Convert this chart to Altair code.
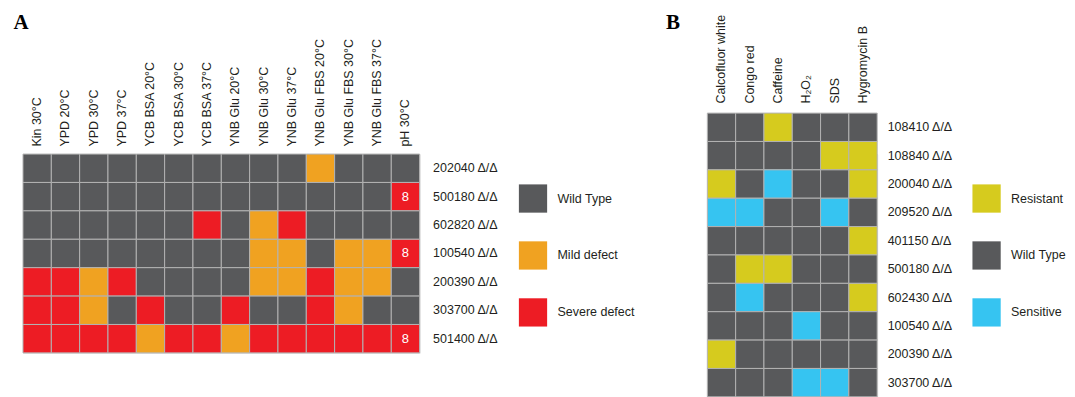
import altair as alt
import pandas as pd

# ---------------- Panel A data ----------------
a_conditions = ["Kin 30°C", "YPD 20°C", "YPD 30°C", "YPD 37°C", "YCB BSA 20°C",
                "YCB BSA 30°C", "YCB BSA 37°C", "YNB Glu 20°C", "YNB Glu 30°C",
                "YNB Glu 37°C", "YNB Glu FBS 20°C", "YNB Glu FBS 30°C",
                "YNB Glu FBS 37°C", "pH 30°C"]
a_strains = ["202040 Δ/Δ", "500180 Δ/Δ", "602820 Δ/Δ", "100540 Δ/Δ",
             "200390 Δ/Δ", "303700 Δ/Δ", "501400 Δ/Δ"]
# W = Wild Type, M = Mild defect, S = Severe defect
a_codes = ["WWWWWWWWWWMWWW",
           "WWWWWWWWWWWWWS",
           "WWWWWWSWMSWWWW",
           "WWWWWWWWMMWMMS",
           "SSMSWWWWMMSMMW",
           "SSMWSWWSWWSMWW",
           "SSSSMSSMSSSSSS"]
a_notes = [("500180 Δ/Δ", "pH 30°C", "8"),
           ("100540 Δ/Δ", "pH 30°C", "8"),
           ("501400 Δ/Δ", "pH 30°C", "8")]
a_names = {"W": "Wild Type", "M": "Mild defect", "S": "Severe defect"}
a_legend = ["Wild Type", "Mild defect", "Severe defect"]
a_colors = ["#58595b", "#f0a221", "#ed1c24"]

# ---------------- Panel B data ----------------
b_conditions = ["Calcofluor white", "Congo red", "Caffeine", "H₂O₂", "SDS", "Hygromycin B"]
b_strains = ["108410 Δ/Δ", "108840 Δ/Δ", "200040 Δ/Δ", "209520 Δ/Δ", "401150 Δ/Δ",
             "500180 Δ/Δ", "602430 Δ/Δ", "100540 Δ/Δ", "200390 Δ/Δ", "303700 Δ/Δ"]
# R = Resistant, W = Wild Type, S = Sensitive
b_codes = ["WWRWWW",
           "WWWWRR",
           "RWSWWR",
           "SSWWSW",
           "WWWWWR",
           "WRRWWW",
           "WSWWWR",
           "WWWSWW",
           "RWWWWW",
           "WWWSSW"]
b_names = {"R": "Resistant", "W": "Wild Type", "S": "Sensitive"}
b_legend = ["Resistant", "Wild Type", "Sensitive"]
b_colors = ["#d6cb1e", "#58595b", "#36c4f1"]

FONT = "Liberation Sans"
TXT = "#231f20"
FS = 12.5

rows = []
notes = {(s, c): t for s, c, t in a_notes}
for s, code in zip(a_strains, a_codes):
    for c, k in zip(a_conditions, code):
        rows.append({"strain": s, "condition": c, "status": a_names[k],
                     "note": notes.get((s, c), "")})
dfA = pd.DataFrame(rows)

rows = []
for s, code in zip(b_strains, b_codes):
    for c, k in zip(b_conditions, code):
        rows.append({"strain": s, "condition": c, "status": b_names[k]})
dfB = pd.DataFrame(rows)


def panel(df, conds, strains, legend_dom, colors, width, height, lift, letter,
          title_x, title_y, x_pad, y_pad, leg_x, leg_y, with_text):
    # lift: how far (px) the grid rises above the shared row origin
    x_axis = alt.Axis(orient="top", labelAngle=270, ticks=False, domain=False,
                      offset=lift,
                      labelPadding=x_pad, labelFontSize=FS, labelColor=TXT,
                      labelFont=FONT, title=letter, titleX=title_x, titleY=title_y,
                      titleAngle=0, titleAlign="left", titleBaseline="alphabetic",
                      titleFont="Liberation Serif", titleFontSize=21,
                      titleFontWeight="bold", titleColor="#000000")
    y_axis = alt.Axis(orient="right", ticks=False, domain=False, labelPadding=y_pad,
                      labelFontSize=FS, labelColor=TXT, labelFont=FONT, title=None)
    base = alt.Chart(df).encode(
        x=alt.X("condition:N", sort=conds,
                scale=alt.Scale(paddingInner=0, paddingOuter=0), axis=x_axis),
        y=alt.Y("strain:N", sort=strains,
                scale=alt.Scale(paddingInner=0, paddingOuter=0,
                                range=[-lift, height - lift]),
                axis=y_axis),
    )
    rects = base.mark_rect(stroke="#b3b3b3", strokeWidth=1).encode(
        color=alt.Color("status:N",
                        scale=alt.Scale(domain=legend_dom, range=colors),
                        legend=alt.Legend(title=None, orient="none", legendX=leg_x,
                                          legendY=leg_y, symbolType="square",
                                          symbolSize=800, symbolStrokeWidth=0,
                                          symbolOpacity=1,
                                          rowPadding=28, labelOffset=10,
                                          labelFontSize=FS, labelFont=FONT,
                                          labelColor=TXT))
    )
    layers = [rects]
    if with_text:
        layers.append(base.mark_text(color="white", fontSize=13, font=FONT)
                      .encode(text="note:N"))
    return alt.layer(*layers).properties(width=width, height=height - lift)


panelA = panel(dfA, a_conditions, a_strains, a_legend, a_colors, 397, 199, 0, "A",
               -10, -126, 8, 13, 496, 30, True)
panelB = panel(dfB, b_conditions, b_strains, b_legend, b_colors, 170, 284, 41, "B",
               -42, -85, 10, 10, 265, 30, False)

chart = alt.ConcatChart(concat=[panelA, panelB], columns=2,
                        spacing=28).resolve_scale(color="independent").properties(
    padding={"left": 4, "top": 2, "right": 0, "bottom": 0}
).configure_view(strokeWidth=0, stroke="transparent").configure(font=FONT)

chart.save("out.html", embed_options={"renderer": "svg", "actions": False})
